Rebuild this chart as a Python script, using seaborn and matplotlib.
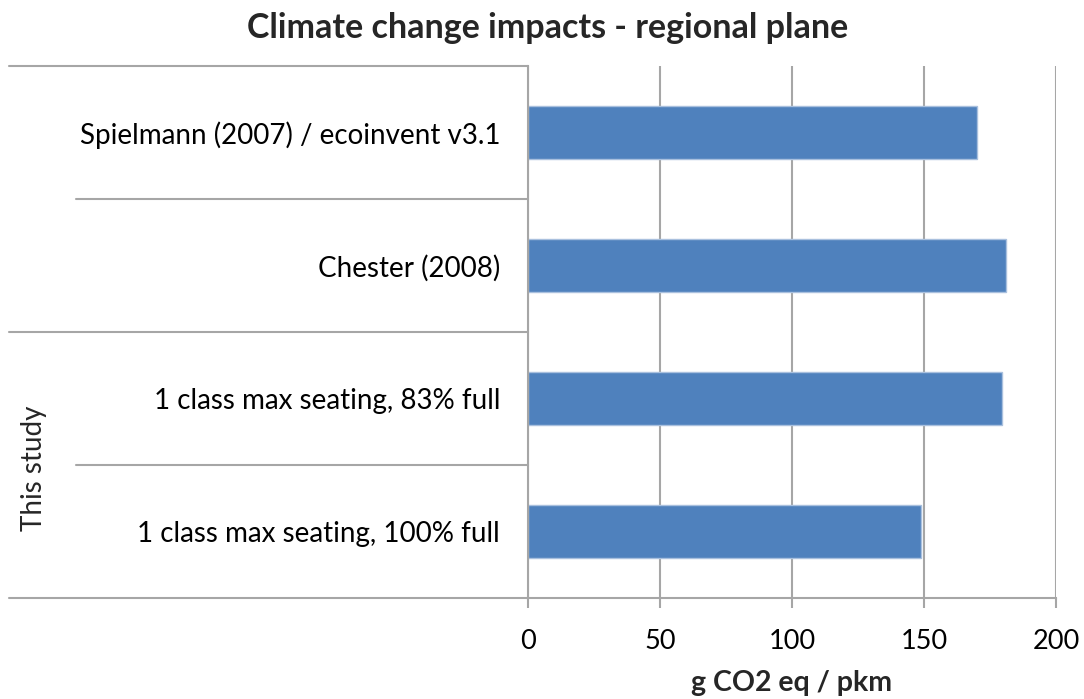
import matplotlib
matplotlib.use('Agg')
import matplotlib.pyplot as plt
import matplotlib.transforms as mtransforms
import seaborn as sns
import pandas as pd

# Data
studies = ['Spielmann (2007) / ecoinvent v3.1',
           'Chester (2008)',
           '1 class max seating, 83% full',
           '1 class max seating, 100% full']
emissions = [170, 181, 179.7, 149]
xticks = [0, 50, 100, 150, 200]

df = pd.DataFrame({'study': studies, 'g_co2': emissions})

sns.set_theme(style='white')
plt.rcParams['font.family'] = ['Lato', 'DejaVu Sans']

grey = '#a6a6a6'
bar_blue = '#4f81bd'

fig = plt.figure(figsize=(10.84, 6.99), dpi=100)
ax = fig.add_axes([528 / 1084, 101 / 699, 528 / 1084, 532 / 699])

sns.barplot(data=df, x='g_co2', y='study', order=studies, color=bar_blue,
            width=0.4, edgecolor='#a9c0de', linewidth=1, saturation=1, ax=ax)

ax.set_xlim(0, 200)
ax.set_ylim(3.5, -0.5)
ax.set_xticks(xticks)
ax.set_xticklabels([str(t) for t in xticks])
ax.xaxis.grid(True, color=grey, linewidth=1.5)
ax.yaxis.grid(False)
ax.set_axisbelow(True)

for side in ['top', 'right']:
    ax.spines[side].set_visible(False)
for side in ['left', 'bottom']:
    ax.spines[side].set_color(grey)
    ax.spines[side].set_linewidth(1.5)

ax.tick_params(axis='x', direction='out', length=7, width=1.5, color=grey,
               pad=15, labelsize=19.5, labelcolor='black', bottom=True)
ax.tick_params(axis='y', length=0, pad=20, labelsize=20, labelcolor='black')

ax.set_ylabel('')
ax.set_xlabel('g CO2 eq / pkm', fontsize=20.5, fontweight='bold', labelpad=12)

# category separator lines in the label area (axes x, data y)
trans = mtransforms.blended_transform_factory(ax.transAxes, ax.transData)
outer_left = (9 - 528) / 528
inner_left = (76 - 528) / 528
for yb in [-0.5, 1.5, 3.5]:
    ax.plot([outer_left, 0], [yb, yb], transform=trans, color=grey,
            linewidth=1.5, clip_on=False)
for yb in [0.5, 2.5]:
    ax.plot([inner_left, 0], [yb, yb], transform=trans, color=grey,
            linewidth=1.5, clip_on=False)

# group label for the bottom two rows
fig.text(34 / 1084, 1 - 468 / 699, 'This study', rotation=90, fontsize=20,
         ha='center', va='center')

fig.text(548 / 1084, 1 - 28 / 699, 'Climate change impacts - regional plane',
         fontsize=24.5, fontweight='bold', ha='center', va='center')

fig.savefig('out.png', dpi=100)
